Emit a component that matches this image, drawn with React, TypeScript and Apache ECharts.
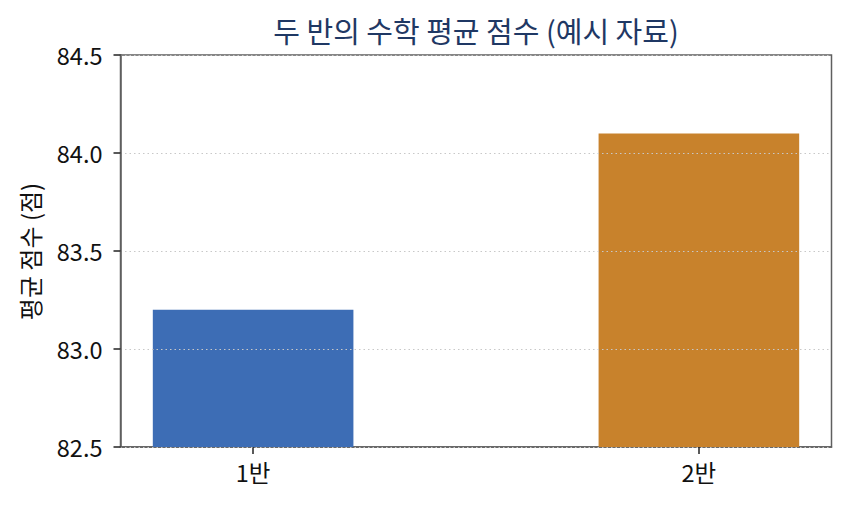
import React, { useEffect, useRef } from "react";
import * as echarts from "echarts";

const categories = ["1반", "2반"];
const scores = [83.2, 84.1];
const barColors = ["#3d6db5", "#c8822c"];
const yTicks = [82.5, 83.0, 83.5, 84.0, 84.5];

const FONT = "'Noto Sans CJK KR', 'Noto Sans', sans-serif";

export default function App() {
  const ref = useRef<HTMLDivElement>(null);
  useEffect(() => {
    if (!ref.current) return;
    const chart = echarts.init(ref.current, undefined, { renderer: "svg" });
    const left = 120.5;
    const right = 17.5;
    const top = 55;
    const bottom = 61;
    chart.setOption({
      animation: false,
      backgroundColor: "#ffffff",
      grid: {
        left,
        right,
        top,
        bottom,
        show: true,
        borderColor: "#5f5f5f",
        borderWidth: 1.5,
        backgroundColor: "transparent",
      },
      xAxis: {
        type: "value",
        min: -0.2975,
        max: 1.2975,
        splitLine: { show: false },
        axisLine: {
          show: true,
          onZero: false,
          lineStyle: { color: "#5f5f5f", width: 1.5 },
        },
        axisTick: {
          show: true,
          customValues: [0, 1],
          length: 7,
          lineStyle: { color: "#222222", width: 1.5 },
        },
        axisLabel: {
          customValues: [0, 1],
          formatter: (v: number) => categories[Math.round(v)] ?? "",
          color: "#111111",
          fontFamily: FONT,
          fontSize: 23.5,
          margin: 13,
        },
      },
      yAxis: {
        type: "value",
        min: yTicks[0],
        max: yTicks[yTicks.length - 1],
        interval: 0.5,
        z: 5,
        axisLine: {
          show: true,
          onZero: false,
          lineStyle: { color: "#5f5f5f", width: 1.5 },
        },
        axisTick: {
          show: true,
          length: 7,
          lineStyle: { color: "#222222", width: 1.5 },
        },
        axisLabel: {
          formatter: (v: number) => v.toFixed(1),
          color: "#111111",
          fontFamily: FONT,
          fontSize: 23.5,
          margin: 18,
        },
        splitLine: {
          show: true,
          lineStyle: { color: "#c8c8c8", type: [1.5, 3], width: 1 },
        },
      },
      graphic: [
        {
          type: "text",
          x: 476,
          y: 30,
          style: {
            text: "두 반의 수학 평균 점수 (예시 자료)",
            fill: "#1f3864",
            font: `29px ${FONT}`,
            align: "center",
            verticalAlign: "middle",
          },
        },
        {
          type: "text",
          x: 29,
          y: 251.5,
          rotation: Math.PI / 2,
          style: {
            text: "평균 점수 (점)",
            fill: "#111111",
            font: `24px ${FONT}`,
            align: "center",
            verticalAlign: "middle",
          },
        },
      ],
      series: [
        {
          type: "bar",
          barWidth: 200.6,
          data: scores.map((s, i) => ({
            value: [i, s],
            itemStyle: { color: barColors[i] },
          })),
        },
      ],
    });
    return () => chart.dispose();
  }, []);
  return (
    <div
      ref={ref}
      style={{ position: "absolute", left: 0, top: 0, width: 849, height: 508 }}
    />
  );
}
